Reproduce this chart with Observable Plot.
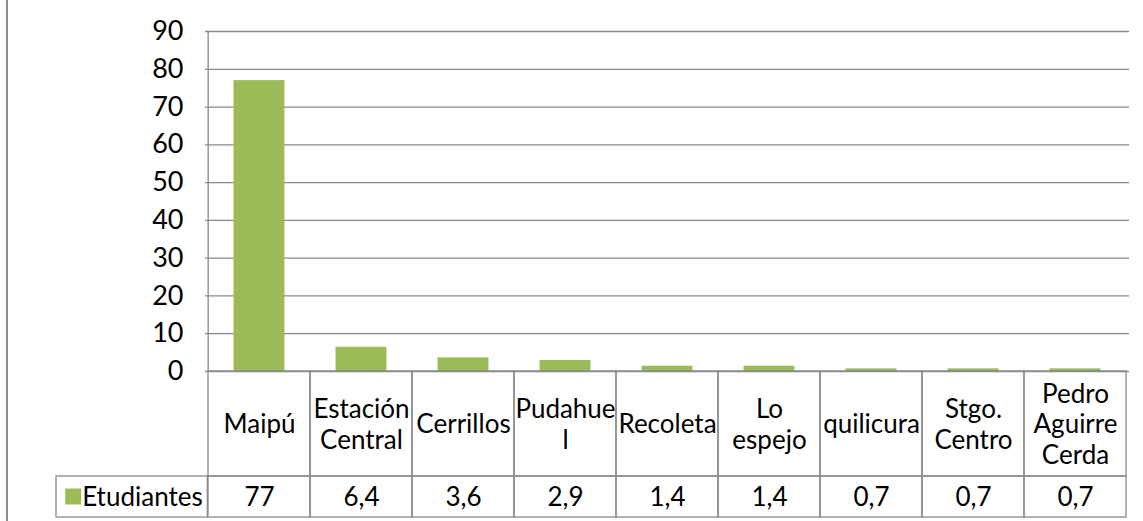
<!DOCTYPE html>
<html>
<head>
<meta charset="utf-8">
<script src="https://cdn.jsdelivr.net/npm/d3@7"></script>
<script src="https://cdn.jsdelivr.net/npm/@observablehq/plot@0.6"></script>
<style>
  html, body { margin: 0; padding: 0; background: #fff; }
  #wrap { position: relative; width: 1143px; height: 521px; overflow: hidden; }
  #edge { position: absolute; left: 6px; top: 0; width: 2px; height: 521px; background: #8c8c8c; }
  svg { font-family: Lato, "Open Sans", sans-serif; }
</style>
</head>
<body>
<div id="wrap"><div id="edge"></div></div>
<script>
const categories = ["Maipú", "Estación Central", "Cerrillos", "Pudahuel", "Recoleta", "Lo espejo", "quilicura", "Stgo. Centro", "Pedro Aguirre Cerda"];
const categoryLabels = ["Maipú", "Estación\nCentral", "Cerrillos", "Pudahue\nl", "Recoleta", "Lo\nespejo", "quilicura", "Stgo.\nCentro", "Pedro\nAguirre\nCerda"];
const values = [77, 6.4, 3.6, 2.9, 1.4, 1.4, 0.7, 0.7, 0.7];
const seriesName = "Etudiantes";
const yTicks = [0, 10, 20, 30, 40, 50, 60, 70, 80, 90];

const W = 1143, H = 521;
const mL = 205, mR = 14, mT = 31, mB = 150;
const bw = (W - mL - mR) / categories.length;
const grid = "#898989";
const green = "#9BBB59";
const fs = 26;

const rows = categories.map((c, i) => ({cat: c, label: categoryLabels[i], value: values[i], text: String(values[i]).replace(".", ",")}));

const chart = Plot.plot({
  width: W,
  height: H,
  marginLeft: mL,
  marginRight: mR,
  marginTop: mT,
  marginBottom: mB,
  style: {fontFamily: "Lato, 'Open Sans', sans-serif", color: "#000", background: "#fff"},
  x: {domain: categories, padding: 0, axis: null},
  y: {domain: [0, 90], axis: null},
  marks: [
    Plot.ruleY(yTicks, {stroke: grid, strokeWidth: 1.3}),
    Plot.ruleX([categories[0]], {x: d => d, y1: 0, y2: 90, dx: -bw / 2, stroke: grid, strokeWidth: 1.3}),
    Plot.barY(rows, {x: "cat", y: "value", fill: green, insetLeft: 25.5, insetRight: 25.5}),
    // category row of the data table
    Plot.barY(rows, {x: "cat", y1: 0, y2: 0, insetBottom: -105, fill: "none", stroke: grid, strokeWidth: 1.3}),
    // value row of the data table
    Plot.barY(rows, {x: "cat", y1: 0, y2: 0, insetTop: 105, insetBottom: -146, fill: "none", stroke: grid, strokeWidth: 1.3}),
    // legend cell
    Plot.barY([rows[0]], {x: "cat", y1: 0, y2: 0, insetLeft: -152, insetRight: bw, insetTop: 105, insetBottom: -146, fill: "none", stroke: grid, strokeWidth: 1.3}),
    Plot.text(rows, {x: "cat", y: 0, text: "label", dy: 52, lineAnchor: "middle", lineHeight: 1.18, fontSize: fs, fill: "#000"}),
    Plot.text(rows, {x: "cat", y: 0, text: "text", dy: 126, lineAnchor: "middle", fontSize: fs, fill: "#000"}),
    Plot.dot([rows[0]], {x: "cat", y: 0, dx: -bw / 2 - 135, dy: 125, symbol: "square", r: 9, fill: green}),
    Plot.text([rows[0]], {x: "cat", y: 0, text: () => seriesName, dx: -bw / 2 - 126, dy: 126, textAnchor: "start", lineAnchor: "middle", fontSize: fs, fill: "#000"}),
    Plot.axisY({ticks: yTicks, tickSize: 0, tickPadding: 22, fontSize: 27, label: null, tickFormat: d => String(d)})
  ]
});
document.getElementById("wrap").appendChild(chart);
</script>
</body>
</html>
